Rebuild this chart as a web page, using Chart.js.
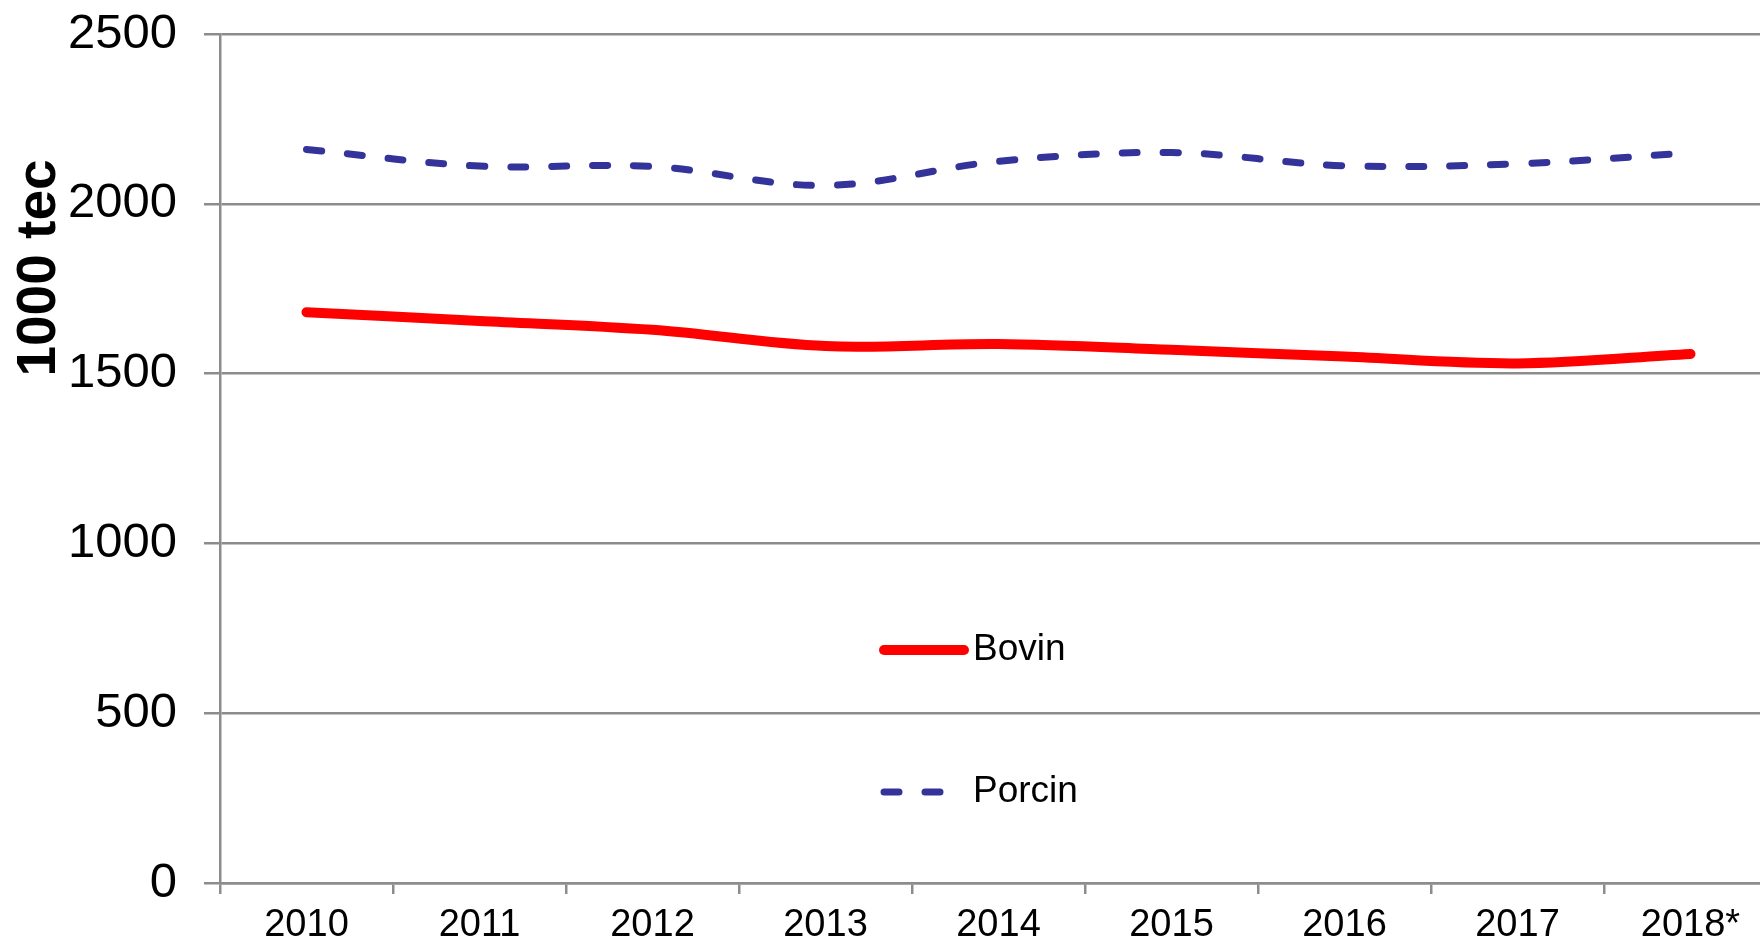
<!DOCTYPE html>
<html>
<head>
<meta charset="utf-8">
<script src="https://cdn.jsdelivr.net/npm/chart.js@4/dist/chart.umd.min.js"></script>
<style>
    html, body { margin: 0; padding: 0; background: #fff; overflow: hidden; }
    canvas { display: block; }
</style>
</head>
<body>
<canvas id="abattagesChart" width="1780" height="940"></canvas>
<script>
const years = ['2010', '2011', '2012', '2013', '2014', '2015', '2016', '2017', '2018*'];
const bovin = [1681, 1655, 1629, 1581, 1587, 1570, 1550, 1530, 1558];
const porcin = [2160, 2111, 2110, 2054, 2125, 2151, 2112, 2118, 2150];
const yMin = 0;
const yMax = 2500;
const yStep = 500;
const yTitle = '1000 tec';

document.addEventListener("DOMContentLoaded", function () {
    const canvas = document.getElementById("abattagesChart");
    if (!canvas) return;

    const gridGrey = '#8c8c8c';

    // axis title sits high on the left, not centred on the axis
    const sideTitle = {
        id: 'sideTitle',
        afterDraw(chart) {
            const ctx = chart.ctx;
            ctx.save();
            ctx.translate(40, 268);
            ctx.rotate(-Math.PI / 2);
            ctx.font = 'bold 55px "Liberation Sans", Arial, sans-serif';
            ctx.fillStyle = '#000';
            ctx.textAlign = 'center';
            ctx.textBaseline = 'middle';
            ctx.fillText(yTitle, 0, 0);
            ctx.restore();
        }
    };

    // legend drawn inside the plot, one row per dataset
    const innerLegend = {
        id: 'innerLegend',
        afterDatasetsDraw(chart, args, opts) {
            const ctx = chart.ctx;
            chart.data.datasets.forEach((ds, i) => {
                const y = opts.rows[i];
                ctx.save();
                ctx.strokeStyle = ds.borderColor;
                ctx.lineWidth = ds.borderWidth;
                ctx.lineCap = ds.borderCapStyle || 'butt';
                ctx.setLineDash(ds.borderDash || []);
                ctx.beginPath();
                ctx.moveTo(opts.x, y);
                ctx.lineTo(opts.x + opts.lineLen[i], y);
                ctx.stroke();
                ctx.restore();

                ctx.save();
                ctx.font = '37px "Liberation Sans", Arial, sans-serif';
                ctx.fillStyle = '#000';
                ctx.textAlign = 'left';
                ctx.textBaseline = 'middle';
                ctx.fillText(ds.label, opts.textX, y);
                ctx.restore();
            });
        }
    };

    const ctx = canvas.getContext("2d");
    window.abattagesChart = new Chart(ctx, {
        type: 'line',
        data: {
            labels: years,
            datasets: [
                {
                    label: 'Bovin',
                    data: bovin,
                    borderColor: '#ff0000',
                    borderWidth: 10,
                    borderCapStyle: 'round',
                    borderJoinStyle: 'round',
                    tension: 0.35,
                    pointRadius: 0,
                    fill: false
                },
                {
                    label: 'Porcin',
                    data: porcin,
                    borderColor: '#333399',
                    borderWidth: 7,
                    borderDash: [15, 26],
                    borderCapStyle: 'round',
                    borderJoinStyle: 'round',
                    tension: 0.35,
                    pointRadius: 0,
                    fill: false
                }
            ]
        },
        options: {
            responsive: false,
            animation: false,
            layout: { padding: { top: 34, right: 3, left: 0, bottom: 0 } },
            plugins: {
                legend: { display: false },
                tooltip: { enabled: false },
                innerLegend: { x: 884, textX: 973, rows: [650, 792], lineLen: [80, 60] }
            },
            scales: {
                x: {
                    offset: true,
                    grid: {
                        offset: true,
                        drawOnChartArea: false,
                        drawTicks: true,
                        tickLength: 11,
                        color: gridGrey,
                        lineWidth: 2.5
                    },
                    border: { display: true, color: gridGrey, width: 2.5 },
                    ticks: {
                        color: '#000',
                        padding: 9,
                        maxRotation: 0,
                        autoSkip: false,
                        font: { family: '"Liberation Sans", Arial, sans-serif', size: 38 }
                    },
                    afterFit(scale) { scale.height = 57; }
                },
                y: {
                    min: yMin,
                    max: yMax,
                    grid: {
                        color: gridGrey,
                        lineWidth: 2.5,
                        drawTicks: true,
                        tickLength: 16
                    },
                    border: { display: true, color: gridGrey, width: 2.5 },
                    ticks: {
                        stepSize: yStep,
                        color: '#000',
                        padding: 27,
                        font: { family: '"Liberation Sans", Arial, sans-serif', size: 49 },
                        callback: (value) => String(value)
                    },
                    afterFit(scale) {
                        scale.width = 220;
                        // labels may overhang the plot, the layout padding already covers them
                        scale.paddingTop = 0;
                        scale.paddingBottom = 0;
                    }
                }
            }
        },
        plugins: [sideTitle, innerLegend]
    });
});
</script>
</body>
</html>
